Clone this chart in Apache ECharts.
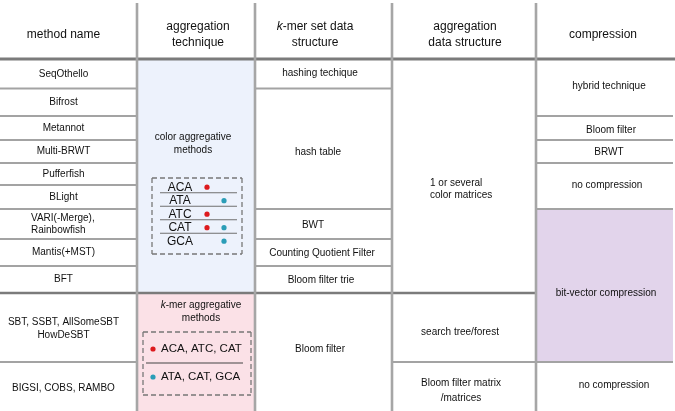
<!DOCTYPE html>
<html><head><meta charset="utf-8">
<script src="https://cdn.jsdelivr.net/npm/echarts@6/dist/echarts.min.js"></script>
<style>html,body{margin:0;padding:0;background:#fff}#c{width:675px;height:411px}</style>
</head><body><div id="c"></div>
<script>
// ---------------- content ----------------
const headers = ['method name', 'aggregation\ntechnique', '{i|k}-mer set data\nstructure', 'aggregation\ndata structure', 'compression'];
const methodNames = ['SeqOthello', 'Bifrost', 'Metannot', 'Multi-BRWT', 'Pufferfish', 'BLight',
  'VARI(-Merge),\nRainbowfish', 'Mantis(+MST)', 'BFT', 'SBT, SSBT, AllSomeSBT\nHowDeSBT', 'BIGSI, COBS, RAMBO'];
const techniques = ['color aggregative\nmethods', '{i|k}-mer aggregative\nmethods'];
const techSpans = [[0, 9], [9, 11]];
const colorKmers = ['ACA', 'ATA', 'ATC', 'CAT', 'GCA'];
const inColorA = [1, 0, 1, 1, 0];
const inColorB = [0, 1, 0, 1, 1];
const kmerGroups = ['ACA, ATC, CAT', 'ATA, CAT, GCA'];
const kmerStructures = ['hashing techique', 'hash table', 'BWT', 'Counting Quotient Filter', 'Bloom filter trie', 'Bloom filter'];
const kmerSpans = [[0, 1], [1, 6], [6, 7], [7, 8], [8, 9], [9, 11]];
const aggStructures = ['1 or several\ncolor matrices', 'search tree/forest', 'Bloom filter matrix\n/matrices'];
const aggSpans = [[0, 9], [9, 10], [10, 11]];
const compressions = ['hybrid technique', 'Bloom filter', 'BRWT', 'no compression', 'bit-vector compression', 'no compression'];
const compSpans = [[0, 2], [2, 3], [3, 4], [4, 6], [6, 10], [10, 11]];

// ---------------- layout (axis units) ----------------
const colEdges = [0, 137, 255, 392, 536, 673];
const rowEdges = [59, 88.5, 116, 140, 163, 185, 209, 239, 266, 293, 362, 410];
const tableTop = 3, tableBottom = 411;
const headerAnchors = [[63.5, 35], [198, 35], [315, 35], [465, 35], [603, 35]];
const methodX = 63.5;
const methodDy = [0, 0, 0, 0, 0, 0, 0.5, 0, 0, 1, 2];
const techAnchors = [[193, 143.5], [201, 311.5]];
const kmerAnchors = [[320, 73], [318, 152], [313, 225.5], [322, 253], [321, 280], [320, 349]];
const aggAnchors = [[430, 189, 'left'], [460, 332, 'center'], [461, 390.5, 'center']];
const compAnchors = [[609, 86], [611, 130], [609, 152.5], [607, 185], [606, 293], [614, 385]];
const colorBox = {x1: 152, y1: 178, x2: 242, y2: 254, textX: 180, y0: 187.2, dy: 13.5, lineX1: 160, lineX2: 237, dotA: 207, dotB: 224};
const kmerBox = {x1: 143, y1: 332, x2: 251, y2: 395, textX: 161, dotX: 153, y0: 349, y1t: 377, divY: 363, divX1: 146, divX2: 243};

const C = {
  text: '#111', light: '#a3a3a3', dark: '#7b7b7b', vert: '#a6a6a6',
  blue: '#edf2fc', pink: '#fbe1e7', purple: '#e2d4eb', dash: '#777', red: '#dd1a1e', teal: '#2b9db7'
};
const FONT = '"Liberation Sans", Arial, Helvetica, sans-serif';

function renderItem(params, api) {
  const P = (x, y) => api.coord([x, y]);
  const kids = [];
  const rect = (x1, y1, x2, y2, fill) => {
    const a = P(x1, y1), b = P(x2, y2);
    kids.push({type: 'rect', shape: {x: a[0], y: a[1], width: b[0] - a[0], height: b[1] - a[1]}, style: {fill: fill}});
  };
  const line = (x1, y1, x2, y2, stroke, w, dash) => {
    const a = P(x1, y1), b = P(x2, y2);
    kids.push({type: 'line', shape: {x1: a[0], y1: a[1], x2: b[0], y2: b[1]}, style: {stroke: stroke, lineWidth: w, lineDash: dash || null}});
  };
  const text = (t, x, y, size, align, lh) => {
    const a = P(x, y);
    kids.push({type: 'text', style: {
      text: t, x: a[0], y: a[1], align: align || 'center', verticalAlign: 'middle',
      fontSize: size, fontFamily: FONT, fill: C.text, lineHeight: lh || Math.round(size * 1.3),
      rich: {i: {fontStyle: 'italic', fontSize: size, fontFamily: FONT, fill: C.text}}
    }});
  };
  const dot = (x, y, fill) => {
    const a = P(x, y);
    kids.push({type: 'circle', shape: {cx: a[0], cy: a[1], r: 2.6}, style: {fill: fill}});
  };

  // fills
  rect(colEdges[1], rowEdges[techSpans[0][0]], colEdges[2], rowEdges[techSpans[0][1]], C.blue);
  rect(colEdges[1], rowEdges[techSpans[1][0]], colEdges[2], tableBottom, C.pink);
  rect(colEdges[4], rowEdges[compSpans[4][0]], colEdges[5], rowEdges[compSpans[4][1]], C.purple);

  // horizontal separators per column
  const sepStyle = (r) => r === 9 ? [C.dark, 2.6] : [C.light, 2];
  const colSpans = [
    methodNames.map((_, i) => [i, i + 1]), techSpans, kmerSpans, aggSpans, compSpans
  ];
  colSpans.forEach((spans, c) => {
    spans.forEach((s, k) => {
      if (k === spans.length - 1) return;
      const r = s[1];
      const st = sepStyle(r);
      line(colEdges[c], rowEdges[r], colEdges[c + 1], rowEdges[r], st[0], st[1]);
    });
  });
  // header line
  line(colEdges[0], rowEdges[0], 675, rowEdges[0], C.dark, 2.8);
  // vertical lines
  for (let c = 1; c < colEdges.length - 1; c++) {
    line(colEdges[c], tableTop, colEdges[c], tableBottom, C.vert, 2.6);
  }

  // header texts
  headers.forEach((h, i) => text(h, headerAnchors[i][0], headerAnchors[i][1], 12, 'center', 16));
  // method names
  methodNames.forEach((m, i) => {
    const y = (rowEdges[i] + rowEdges[i + 1]) / 2 + methodDy[i];
    if (i === 6) text(m, 31, y, 10, 'left', 12);
    else text(m, methodX, y, 10, 'center', 13);
  });
  techniques.forEach((t, i) => text(t, techAnchors[i][0], techAnchors[i][1], 10, 'center', 13));
  kmerStructures.forEach((t, i) => text(t, kmerAnchors[i][0], kmerAnchors[i][1], 10, 'center', 13));
  aggStructures.forEach((t, i) => text(t, aggAnchors[i][0], aggAnchors[i][1], 10, aggAnchors[i][2], i === 2 ? 15 : 12));
  compressions.forEach((t, i) => text(t, compAnchors[i][0], compAnchors[i][1], 10, 'center', 13));

  // color aggregative box
  const cb = colorBox;
  line(cb.x1, cb.y1, cb.x2, cb.y1, C.dash, 1.3, [5, 3]);
  line(cb.x1, cb.y2, cb.x2, cb.y2, C.dash, 1.3, [5, 3]);
  line(cb.x1, cb.y1, cb.x1, cb.y2, C.dash, 1.3, [5, 3]);
  line(cb.x2, cb.y1, cb.x2, cb.y2, C.dash, 1.3, [5, 3]);
  colorKmers.forEach((k, i) => {
    const y = cb.y0 + i * cb.dy;
    text(k, cb.textX, y, 12, 'center', 14);
    if (i < colorKmers.length - 1) line(cb.lineX1, y + 5.5, cb.lineX2, y + 5.5, '#6f6f6f', 1.1);
    if (inColorA[i]) dot(cb.dotA, y, C.red);
    if (inColorB[i]) dot(cb.dotB, y, C.teal);
  });

  // k-mer aggregative box
  const kb = kmerBox;
  line(kb.x1, kb.y1, kb.x2, kb.y1, C.dash, 1.3, [5, 3]);
  line(kb.x1, kb.y2, kb.x2, kb.y2, C.dash, 1.3, [5, 3]);
  line(kb.x1, kb.y1, kb.x1, kb.y2, C.dash, 1.3, [5, 3]);
  line(kb.x2, kb.y1, kb.x2, kb.y2, C.dash, 1.3, [5, 3]);
  text(kmerGroups[0], kb.textX, kb.y0, 11.5, 'left', 14);
  text(kmerGroups[1], kb.textX, kb.y1t, 11.5, 'left', 14);
  dot(kb.dotX, kb.y0, C.red);
  dot(kb.dotX, kb.y1t, C.teal);
  line(kb.divX1, kb.divY, kb.divX2, kb.divY, '#444', 1.1);

  return {type: 'group', children: kids};
}

const chart = echarts.init(document.getElementById('c'), null, {renderer: 'canvas'});
chart.setOption({
  animation: false,
  backgroundColor: '#fff',
  grid: {left: 0, right: 0, top: 0, bottom: 0},
  xAxis: {type: 'value', min: 0, max: 675, show: false},
  yAxis: {type: 'value', min: 0, max: 411, inverse: true, show: false},
  series: [{type: 'custom', renderItem: renderItem, data: [[0, 0]], clip: false, silent: true}]
});
</script></body></html>
